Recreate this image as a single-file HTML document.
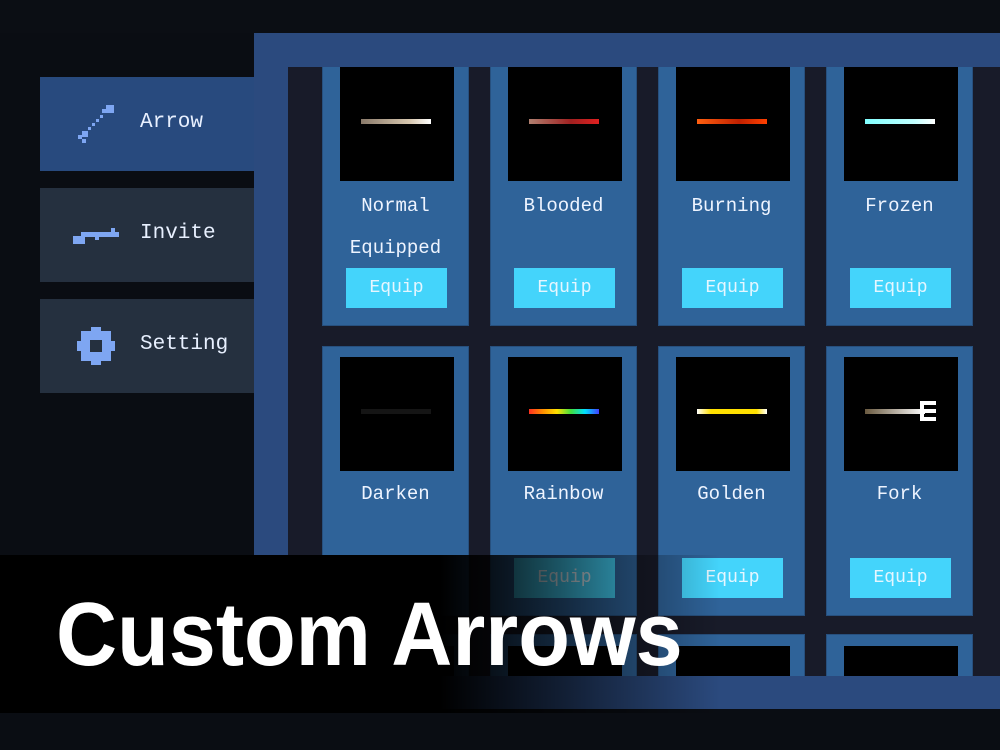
<!DOCTYPE html>
<html><head><meta charset="utf-8"><style>
*{margin:0;padding:0;box-sizing:border-box}
body{width:1000px;height:750px;overflow:hidden;background:#0a0d13;position:relative;font-family:"Liberation Mono","DejaVu Sans Mono",monospace}
.a{position:absolute}
.card{position:absolute;width:147px;background:#2f6399;border:1px solid #27507e}
.img{position:absolute;left:17px;width:114px;height:114px;background:#000}
.name{position:absolute;left:0;width:100%;text-align:center;color:#eef4ff;font-size:19px}
.btn{position:absolute;left:23px;width:101px;height:40px;background:#44d4fb;color:#e6f6ff;font-size:18px;text-align:center;line-height:40px}
.tab{position:absolute;left:40px;width:214px;height:94px;color:#e8f0ff;font-size:21px}
.tab span{position:absolute;left:100px;top:34px}
.arr{position:absolute;left:21px;top:52px;width:70px;height:5px}
</style></head><body>
<div class="a" style="left:0;top:0;width:1000px;height:33px;background:#0b0e14"></div>
<!-- outer panel -->
<div class="a" style="left:254px;top:33px;width:746px;height:676px;background:#2b4a7e"></div>
<div class="a" style="left:288px;top:67px;width:712px;height:609px;background:#181b29"></div>

<!-- row1 -->
<div class="card" style="left:322px;top:60px;height:266px"><div class="img" style="top:6px"><div class="arr" style="background:linear-gradient(90deg,#8a7a6a,#d8c8b0 70%,#fff)"></div></div><div class="name" style="top:134px">Normal</div><div class="name" style="top:176px">Equipped</div><div class="btn" style="top:207px">Equip</div></div>
<div class="card" style="left:490px;top:60px;height:266px"><div class="img" style="top:6px"><div class="arr" style="background:linear-gradient(90deg,#b08070,#a02020 60%,#e02020)"></div></div><div class="name" style="top:134px">Blooded</div><div class="btn" style="top:207px">Equip</div></div>
<div class="card" style="left:658px;top:60px;height:266px"><div class="img" style="top:6px"><div class="arr" style="background:linear-gradient(90deg,#ff6010,#c02000 60%,#ff4000)"></div></div><div class="name" style="top:134px">Burning</div><div class="btn" style="top:207px">Equip</div></div>
<div class="card" style="left:826px;top:60px;height:266px"><div class="img" style="top:6px"><div class="arr" style="background:linear-gradient(90deg,#80ffff,#c0ffff 70%,#fff)"></div></div><div class="name" style="top:134px">Frozen</div><div class="btn" style="top:207px">Equip</div></div>
<div class="a" style="left:254px;top:33px;width:746px;height:34px;background:#2b4a7e"></div>
<!-- row2 -->
<div class="card" style="left:322px;top:346px;height:270px"><div class="img" style="top:10px"><div class="arr" style="background:#151515"></div></div><div class="name" style="top:136px">Darken</div></div>
<div class="card" style="left:490px;top:346px;height:270px"><div class="img" style="top:10px"><div class="arr" style="background:linear-gradient(90deg,#ff3020,#ff9000,#ffe000,#40e040,#00e0ff,#4040ff)"></div></div><div class="name" style="top:136px">Rainbow</div><div class="btn" style="top:211px">Equip</div></div>
<div class="card" style="left:658px;top:346px;height:270px"><div class="img" style="top:10px"><div class="arr" style="background:linear-gradient(90deg,#fff,#ffe000 20%,#ffe000 85%,#fff)"></div></div><div class="name" style="top:136px">Golden</div><div class="btn" style="top:211px">Equip</div></div>
<div class="card" style="left:826px;top:346px;height:270px"><div class="img" style="top:10px"><div class="arr" style="width:60px;background:linear-gradient(90deg,#6a5a40,#fff)"></div><div class="a" style="left:76px;top:44px;width:16px;height:4px;background:#fff"></div><div class="a" style="left:76px;top:52px;width:16px;height:4px;background:#fff"></div><div class="a" style="left:76px;top:60px;width:16px;height:4px;background:#fff"></div><div class="a" style="left:76px;top:44px;width:4px;height:20px;background:#fff"></div></div><div class="name" style="top:136px">Fork</div><div class="btn" style="top:211px">Equip</div></div>
<!-- row3 -->
<div class="card" style="left:322px;top:634px;height:60px"><div class="img" style="top:11px;height:40px"></div></div>
<div class="card" style="left:490px;top:634px;height:60px"><div class="img" style="top:11px;height:40px"></div></div>
<div class="card" style="left:658px;top:634px;height:60px"><div class="img" style="top:11px;height:40px"></div></div>
<div class="card" style="left:826px;top:634px;height:60px"><div class="img" style="top:11px;height:40px"></div></div>
<div class="a" style="left:254px;top:676px;width:746px;height:33px;background:#2b4a7e"></div>

<!-- sidebar -->
<div class="tab" style="top:77px;background:#284a7e"><svg class="a" style="left:36px;top:28px" width="40" height="40"><g fill="#7ea6f2"><rect x="30" y="0" width="8" height="8"/><rect x="26" y="4" width="4" height="4"/><rect x="24" y="10" width="3" height="3"/><rect x="20" y="14" width="3" height="3"/><rect x="16" y="18" width="3" height="3"/><rect x="12" y="22" width="3" height="3"/><rect x="6" y="26" width="6" height="6"/><rect x="2" y="30" width="4" height="4"/><rect x="6" y="34" width="4" height="4"/></g></svg><span>Arrow</span></div>
<div class="tab" style="top:188px;background:#25303f"><svg class="a" style="left:33px;top:36px" width="48" height="24"><g fill="#7ea6f2"><rect x="0" y="12" width="12" height="8"/><rect x="8" y="8" width="38" height="5"/><rect x="38" y="4" width="4" height="4"/><rect x="22" y="12" width="4" height="4"/></g></svg><span>Invite</span></div>
<div class="tab" style="top:299px;background:#25303f"><svg class="a" style="left:37px;top:28px" width="40" height="40"><g fill="#7ea6f2"><rect x="14" y="0" width="10" height="38"/><rect x="0" y="14" width="38" height="10"/><rect x="4" y="4" width="30" height="30"/></g><rect x="13" y="13" width="12" height="12" fill="#25303f"/></svg><span>Setting</span></div>

<!-- banner -->
<div class="a" style="left:0;top:555px;width:1000px;height:158px;background:linear-gradient(90deg,#000 0,#000 440px,rgba(0,0,0,0.6) 560px,rgba(0,0,0,0) 720px)"></div>
<div class="a" style="left:56px;top:585px;font-family:'Liberation Sans',sans-serif;font-weight:bold;font-size:90px;color:#fff;transform:scaleX(0.94);transform-origin:left top;white-space:nowrap;line-height:100px">Custom Arrows</div>
</body></html>
